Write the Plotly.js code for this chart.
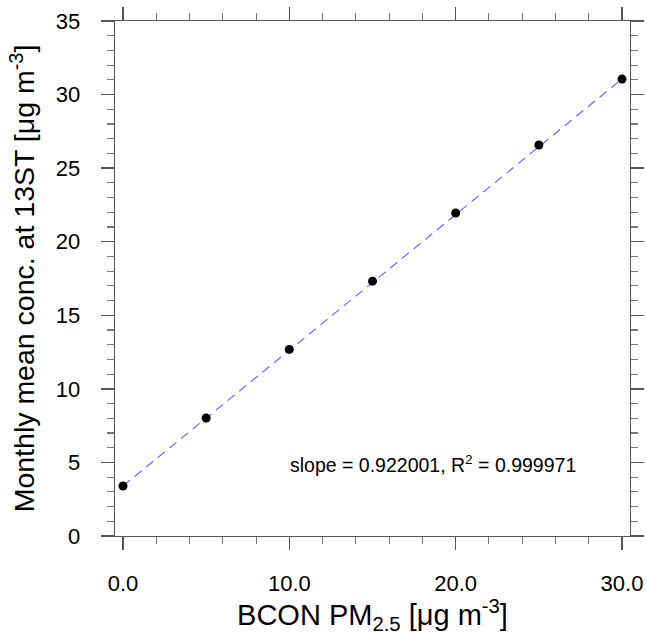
<!DOCTYPE html>
<html><head><meta charset="utf-8">
<script src="https://cdn.plot.ly/plotly-3.0.1.min.js"></script>
<style>body{margin:0;padding:0;background:#fff}#chart{width:647px;height:635px}</style>
</head><body><div id="chart"></div>
<script>
const bconPM = [0, 5, 10, 15, 20, 25, 30];
const monthlyMean13ST = [3.4, 8.02, 12.68, 17.32, 21.95, 26.57, 31.05];
const fitX = [0, 30];
const fitY = [3.4, 31.06];
const xTickVals = [0, 10, 20, 30];
const xTickText = ['0.0', '10.0', '20.0', '30.0'];
const statsText = 'slope = 0.922001, R<sup>2</sup> = 0.999971';

const FONT = 'Liberation Sans, Arial, Helvetica, sans-serif';
const axisCommon = {
  showgrid: false, zeroline: false, showline: true, mirror: 'ticks',
  linecolor: '#555', linewidth: 1.3, ticks: 'outside', ticklen: 13, tickwidth: 1.3,
  tickcolor: '#555', tickfont: {family: FONT, size: 22, color: '#000'}
};
const data = [
  {x: fitX, y: fitY, mode: 'lines', line: {color: '#6b6bff', width: 1.2, dash: '9px,6px'}, hoverinfo: 'skip'},
  {x: bconPM, y: monthlyMean13ST, mode: 'markers', marker: {color: '#000', size: 9}}
];
const layout = {
  width: 647, height: 635, showlegend: false,
  paper_bgcolor: '#fff', plot_bgcolor: '#fff',
  margin: {l: 115, r: 17, t: 21, b: 99},
  xaxis: Object.assign({}, axisCommon, {
    range: [-0.48, 30.48], tickvals: xTickVals, ticktext: xTickText, ticklabelstandoff: 14,
    minor: {dtick: 2, tick0: 0, ticks: 'outside', ticklen: 7, tickwidth: 1.1, tickcolor: '#777'},
    title: {text: 'BCON PM<sub>2.5</sub> [μg m<sup>-3</sup>]', font: {family: FONT, size: 29, color: '#000'}, standoff: 10}
  }),
  yaxis: Object.assign({}, axisCommon, {
    range: [0, 35], dtick: 5, tick0: 0, ticklabelstandoff: 16,
    minor: {dtick: 1, tick0: 0, ticks: 'outside', ticklen: 7, tickwidth: 1.1, tickcolor: '#777'},
    title: {text: 'Monthly mean conc. at 13ST [μg m<sup>-3</sup>]', font: {family: FONT, size: 28.5, color: '#000'}, standoff: 12}
  }),
  annotations: [{
    x: 18.64, y: 4.9, xref: 'x', yref: 'y', text: statsText, showarrow: false,
    font: {family: FONT, size: 19.5, color: '#000'}
  }]
};
Plotly.newPlot('chart', data, layout, {displayModeBar: false, staticPlot: true});
</script></body></html>
